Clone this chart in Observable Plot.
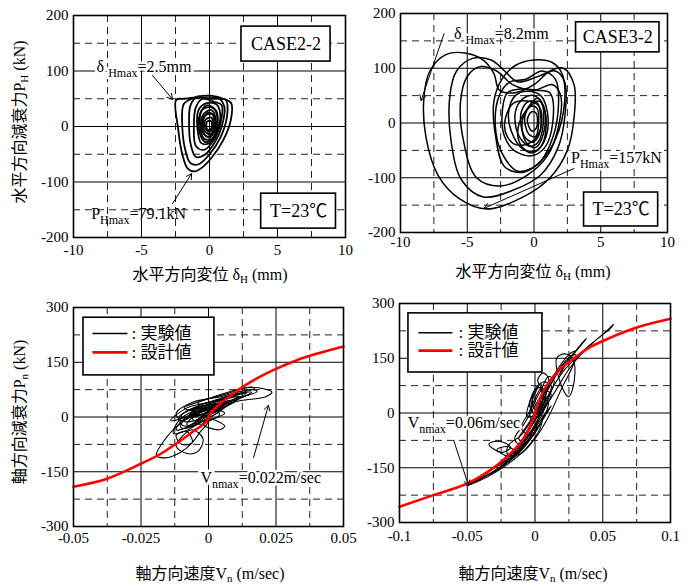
<!DOCTYPE html>
<html><head><meta charset="utf-8">
<script src="https://cdn.jsdelivr.net/npm/d3@7"></script>
<script src="https://cdn.jsdelivr.net/npm/@observablehq/plot@0.6"></script>
<style>
body{margin:0;background:#fff;}
#wrap{position:relative;width:693px;height:588px;background:#fff;font-family:'Liberation Serif','Noto Sans CJK JP';color:#000;}
#wrap svg, #wrap svg text, #wrap svg tspan{font-family:'Liberation Serif','Noto Sans CJK JP' !important;}
.pn{position:absolute;}
.lab{position:absolute;white-space:nowrap;font-size:16px;font-family:'Liberation Serif','Noto Sans CJK JP';}
.lab sub{font-size:11px;vertical-align:-3px;}
.ylab{transform:translate(-50%,-50%) rotate(-90deg);}
.xlab{transform:translate(-50%,-50%);}
</style></head>
<body><div id="wrap"></div>
<script>
// ---------- data ----------
const ticksH_x = [-10, -5, 0, 5, 10];
const ticksH_y = [-200, -100, 0, 100, 200];
const ticksN2_x = [-0.05, -0.025, 0, 0.025, 0.05];
const ticksN3_x = [-0.1, -0.05, 0, 0.05, 0.1];
const ticksN_y = [-300, -150, 0, 150, 300];

// CASE2-2 horizontal hysteresis loops (delta_H mm, P_H kN)
const loopsH22 = [
  [[-2.45,48],[-1.9,50],[-1.2,52],[-0.5,55],[0.2,55],[1.0,50],[1.6,42],[1.55,10],[1.0,-25],[0.2,-55],[-0.6,-75],[-1.1,-81],[-1.6,-76],[-2.0,-50],[-2.3,-5]],
  [[-1.9,40],[-1.3,50],[-0.6,52],[0.3,50],[1.2,48],[1.3,20],[0.8,-20],[0,-50],[-0.8,-68],[-1.4,-66],[-1.8,-40],[-2.0,0]],
  [[-1.4,38],[-0.9,54],[-0.3,50],[0.6,52],[1.1,35],[0.9,0],[0.4,-28],[-0.3,-50],[-1.0,-55],[-1.4,-30],[-1.5,5]],
  [[-1.0,35],[-0.5,50],[0.3,45],[0.9,38],[0.8,5],[0.3,-25],[-0.4,-42],[-1.0,-35],[-1.15,0]],
  [[-0.8,30],[-0.2,42],[0.5,40],[0.8,20],[0.5,-12],[0,-30],[-0.6,-30],[-0.9,0]],
  [[-0.6,28],[0,35],[0.5,28],[0.55,0],[0.2,-22],[-0.4,-22],[-0.7,5]],
  [[-0.5,20],[0.1,30],[0.45,15],[0.3,-12],[-0.2,-18],[-0.55,-2]],
  [[-0.4,18],[0.2,22],[0.35,5],[0.1,-14],[-0.35,-8]],
  [[-0.3,12],[0.15,16],[0.25,0],[0,-10],[-0.3,-2]],
  [[-0.7,22],[-0.2,38],[0.35,32],[0.6,8],[0.3,-20],[-0.3,-28],[-0.75,-8]],
  [[-0.2,8],[0.1,10],[0.15,-3],[-0.15,-6]],
  [[-0.5,10],[-0.1,25],[0.3,20],[0.35,-5],[0,-20],[-0.45,-12]]
];

// CASE3-2 horizontal hysteresis loops
const loopsH32 = [
  [[-8.25,45],[-7.8,95],[-6.6,125],[-5.2,128],[-3.8,115],[-3.0,90],[-2.6,60],[-1.5,55],[0,70],[1.2,95],[2.2,100],[3.0,70],[3.0,10],[2.5,-50],[1.2,-100],[-0.8,-135],[-3.5,-157],[-5.6,-138],[-7.2,-95],[-8.1,-25]],
  [[-6.3,50],[-5.8,95],[-4.6,118],[-3.2,115],[-2.2,95],[-1.2,75],[0.3,85],[1.6,95],[2.3,75],[2.3,10],[1.8,-45],[0.5,-95],[-1.5,-122],[-3.8,-135],[-5.4,-105],[-6.2,-35]],
  [[-5.5,40],[-5.0,85],[-4.0,103],[-2.8,95],[-1.6,70],[0,60],[1.4,70],[2.0,50],[1.8,-10],[1.0,-60],[-0.5,-95],[-2.5,-115],[-4.3,-100],[-5.3,-30]],
  [[-3.0,40],[-2.4,80],[-1.4,105],[0,115],[1.4,110],[2.1,90],[2.3,40],[1.6,-30],[0.5,-70],[-0.8,-90],[-2.2,-80],[-2.9,-20]],
  [[-2.9,-5],[-2.6,50],[-1.8,75],[-0.6,80],[0.6,95],[1.6,80],[1.8,20],[1.2,-40],[0.3,-75],[-1.2,-88],[-2.4,-55]],
  [[-2.4,10],[-2.0,55],[-1.0,62],[0.2,60],[1.2,55],[1.4,0],[0.8,-45],[-0.2,-60],[-1.5,-50],[-2.2,-25]],
  [[-1.9,20],[-1.4,50],[-0.5,58],[0.5,50],[1.0,20],[0.9,-25],[0.2,-50],[-0.8,-48],[-1.7,-15]],
  [[-1.4,20],[-0.8,45],[0,50],[0.6,35],[0.7,0],[0.3,-35],[-0.4,-42],[-1.2,-20]],
  [[-1.0,15],[-0.5,38],[0.2,38],[0.5,15],[0.4,-20],[-0.1,-35],[-0.7,-25]],
  [[-0.7,10],[-0.3,30],[0.2,28],[0.35,0],[0.1,-25],[-0.4,-20]],
  [[-0.5,5],[-0.2,20],[0.15,18],[0.2,-8],[-0.15,-15]],
  [[-2.2,0],[-1.6,35],[-0.5,40],[0.4,30],[0.5,-10],[-0.2,-35],[-1.3,-40],[-2.0,-25]],
  [[-1.2,-10],[-0.5,25],[0.4,40],[0.9,10],[0.6,-40],[-0.2,-55],[-1.0,-40]],
  [[-0.9,0],[-0.4,30],[0.3,45],[0.8,25],[0.7,-20],[0.1,-45],[-0.6,-35]]
];

// CASE2-2 axial loops (V_n m/s, P_n kN)
const loopsN22 = [
  [[-0.009,25],[-0.002,45],[0.006,65],[0.014,80],[0.02,78],[0.0235,68],[0.021,55],[0.012,45],[0.004,30],[-0.003,15]],
  [[-0.005,10],[-0.011,-20],[-0.016,-60],[-0.0193,-105],[-0.016,-112],[-0.01,-95],[-0.006,-70],[-0.003,-40],[0,-10]],
  [[-0.012,-80],[-0.008,-100],[-0.004,-95],[-0.002,-60],[-0.006,-35],[-0.01,-55]],
  [[-0.012,10],[-0.006,40],[0.004,55],[0.016,75],[0.018,70],[0.008,45],[-0.002,20],[-0.01,-10]],
  [[-0.01,-30],[-0.01,5],[-0.004,30],[0.006,50],[0.012,55],[0.008,35],[0,5],[-0.006,-25]],
  [[-0.013,-45],[-0.011,-10],[-0.006,15],[0.002,35],[0.008,40],[0.004,15],[-0.003,-15],[-0.009,-40]],
  [[-0.014,-10],[-0.008,25],[0,40],[0.01,62],[0.016,68],[0.012,52],[0.003,30],[-0.006,5]],
  [[-0.008,-20],[-0.004,10],[0.002,25],[0.006,30],[0.003,10],[-0.002,-10],[-0.006,-25]],
  [[-0.006,-5],[-0.002,15],[0.003,20],[0.004,5],[0,-8],[-0.004,-12]],
  [[0,-5],[0.006,-25],[0.004,-35],[-0.002,-20]],
  [[-0.012,-50],[-0.008,-40],[-0.006,-70],[-0.01,-75]],
  [[-0.004,40],[0.005,60],[0.016,82],[0.017,78],[0.006,55],[-0.003,35]],
  [[-0.011,0],[-0.005,25],[0.004,38],[0.01,45],[0.005,25],[-0.004,5]],
  [[-0.01,-20],[-0.006,10],[0,25],[0.006,38],[0.004,20],[-0.002,0],[-0.008,-25]],
  [[-0.008,0],[-0.003,20],[0.003,35],[0.008,45],[0.005,28],[-0.001,10]],
  [[-0.012,-35],[-0.009,-5],[-0.004,15],[0,20],[-0.002,0],[-0.007,-25]],
  [[-0.006,20],[0,35],[0.008,55],[0.014,65],[0.01,50],[0.002,30]],
  [[-0.009,-12],[-0.005,12],[0.001,28],[0.004,24],[0,6],[-0.005,-10]],
  [[-0.007,5],[-0.002,30],[0.005,45],[0.011,58],[0.008,42],[0.001,20],[-0.005,0]],
  [[-0.005,-15],[-0.001,8],[0.004,18],[0.006,10],[0.002,-5],[-0.003,-20]]
];

// CASE3-2 axial loops
const loopsN32 = [
  [[-0.0505,-198],[-0.04,-175],[-0.03,-150],[-0.02,-120],[-0.01,-80],[0,-20],[0.01,50],[0.02,110],[0.03,150],[0.04,185],[0.05,215],[0.058,243],[0.055,230],[0.045,200],[0.035,165],[0.025,120],[0.015,60],[0.005,0],[-0.005,-60],[-0.015,-105],[-0.03,-150],[-0.045,-190]],
  [[-0.02,-90],[-0.01,-60],[0.002,10],[0.012,80],[0.022,140],[0.03,160],[0.028,130],[0.02,70],[0.01,-10],[0,-70],[-0.01,-110],[-0.02,-115]],
  [[0.016,150],[0.022,162],[0.028,148],[0.029,90],[0.025,45],[0.02,70]],
  [[-0.034,-85],[-0.03,-78],[-0.022,-82],[-0.018,-95],[-0.024,-108],[-0.03,-100]],
  [[-0.028,-100],[-0.02,-92],[-0.014,-110],[-0.02,-118]],
  [[-0.01,-40],[-0.003,10],[0.004,60],[0.01,100],[0.014,90],[0.01,40],[0.003,-20],[-0.005,-60]],
  [[-0.004,20],[0,60],[0.006,85],[0.012,75],[0.008,30],[0.002,-10]],
  [[-0.002,40],[0.002,70],[0.008,60],[0.005,20],[0,10]],
  [[-0.015,-70],[-0.008,-30],[0,20],[0.008,60],[0.012,50],[0.004,0],[-0.006,-50],[-0.012,-85]],
  [[0.02,120],[0.03,170],[0.038,205],[0.036,195],[0.026,150],[0.018,105]],
  [[-0.05,-199],[-0.04,-180],[-0.03,-162],[-0.02,-135],[-0.01,-100],[-0.003,-60],[0.002,-20],[0,-50],[-0.008,-90],[-0.018,-125],[-0.03,-158],[-0.042,-185]],
  [[-0.048,-196],[-0.036,-172],[-0.024,-145],[-0.012,-110],[-0.004,-75],[0.004,-30],[0.006,-5],[0.004,-40],[-0.006,-95],[-0.02,-140],[-0.035,-175]],
  [[-0.03,-150],[-0.02,-128],[-0.01,-95],[0,-50],[0.008,0],[0.01,30],[0.006,10],[-0.004,-60],[-0.016,-115]],
  [[-0.022,-120],[-0.012,-92],[-0.002,-50],[0.006,-10],[0.012,20],[0.008,-5],[-0.002,-60],[-0.014,-105]],
  [[0.005,40],[0.015,110],[0.025,160],[0.03,170],[0.02,130],[0.01,70]],
  [[0.002,90],[0.006,110],[0.01,95],[0.008,60]],
  [[-0.004,0],[0,40],[0.004,65],[0.006,45],[0.002,5],[-0.002,-20]],
  [[-0.006,-10],[-0.004,30],[0,65],[0.004,80],[0.006,50],[0.002,0]],
  [[-0.012,-70],[-0.006,-35],[0.002,10],[0.008,45],[0.006,20],[-0.002,-30],[-0.01,-75]],
  [[-0.003,10],[-0.001,45],[0.003,70],[0.005,55],[0.003,20],[0,0]]
];

// design curves
const designN22 = [[-0.05,-191],[-0.0376,-169],[-0.025,-128],[-0.0175,-100],[-0.011,-68],[-0.005,-36],[-0.001,-14],[0.0012,14],[0.0075,55],[0.0125,82],[0.02,114],[0.025,132],[0.0325,155],[0.04,173],[0.05,193]];
const designN32 = [[-0.1,-257],[-0.075,-225],[-0.0505,-194],[-0.0333,-157],[-0.021,-121],[-0.0086,-71],[-0.0012,-16],[0.0025,29],[0.0086,75],[0.0185,120],[0.031,156],[0.04,179],[0.053,202],[0.075,234],[0.1,258]];

// annotation texts
const legendLabels = [": 実験値", ": 設計値"];
const boxesH22 = [{x1:2.35,x2:8.9,y1:117,y2:180,label:"CASE2-2"},{x1:3.8,x2:9.3,y1:-184,y2:-121,label:"T=23℃"}];
const boxesH32 = [{x1:3.15,x2:9.4,y1:129,y2:184,label:"CASE3-2"},{x1:3.75,x2:9.3,y1:-189,y2:-127,label:"T=23℃"}];
const notesH22 = [{x:-8.3,y:108,t:"δ _{Hmax}=2.5mm",halo:true},{x:-8.7,y:-157,t:"P_{Hmax}=79.1kN",halo:false}];
const arrowsH22 = [{x1:-4.19,y1:92,x2:-2.72,y2:49},{x1:-2.72,y1:-139,x2:-1.32,y2:-85}];
const notesH32 = [{x:-6.0,y:163,t:"δ _{Hmax}=8.2mm",halo:true},{x:2.77,y:-63,t:"P_{Hmax}=157kN",halo:true}];
const arrowsH32 = [{x1:-6.74,y1:163,x2:-8.46,y2:41},{x1:3.0,y1:-83,x2:-3.75,y2:-156}];
const notesN22 = [{x:-0.003,y:-166,t:"V_{nmax}=0.022m/sec",halo:true}];
const arrowsN22 = [{x1:0.0167,y1:-111,x2:0.0222,y2:32}];
const notesN32 = [{x:-0.094,y:-26,t:"V_{nmax}=0.06m/sec",halo:true}];
const arrowsN32 = [{x1:-0.060,y1:-75,x2:-0.049,y2:-199}];
const legendN22 = {box:{x1:-0.0463,x2:0.0022,y1:114,y2:272}, lx1:-0.043, lx2:-0.030, tx:-0.0285, yBlack:229, yRed:177};
const legendN32 = {box:{x1:-0.0934,x2:0.0055,y1:111,y2:273}, lx1:-0.086, lx2:-0.061, tx:-0.0565, yBlack:220, yRed:171};

// ---------- helpers ----------
const FONT = "'Liberation Serif','Noto Sans CJK JP'";
const rows = loops => loops.flatMap((pts, i) => pts.map(([x, y]) => ({x, y, id: i})));
const pts = a => a.map(([x, y]) => ({x, y}));

function subify(svg) {
  d3.select(svg).selectAll("text").each(function () {
    const t = this.textContent;
    const m = t.match(/^(.*?)_\{(.*?)\}(.*)$/);
    if (!m) return;
    const el = d3.select(this);
    el.text(null);
    el.append("tspan").text(m[1]);
    el.append("tspan").attr("dy", 5).attr("font-size", 12).text(m[2]);
    el.append("tspan").attr("dy", -5).text(m[3]);
  });
}

function panel(o) {
  const marks = [
    Plot.ruleX(o.xDashed, {stroke: "#222", strokeWidth: 1, strokeDasharray: "7,5"}),
    Plot.ruleY(o.yDashed, {stroke: "#222", strokeWidth: 1, strokeDasharray: "7,5"}),
    Plot.ruleX(o.xSolid, {stroke: "#000", strokeWidth: 1}),
    Plot.ruleY(o.ySolid, {stroke: "#000", strokeWidth: 1}),
    Plot.line(rows(o.loops), {x: "x", y: "y", z: "id", stroke: "#000", strokeWidth: o.lw, curve: "catmull-rom-closed"})
  ];
  if (o.design) marks.push(Plot.line(pts(o.design), {x: "x", y: "y", stroke: "#f00", strokeWidth: 2.6, curve: "catmull-rom"}));
  if (o.boxes) {
    marks.push(Plot.rect(o.boxes, {x1: "x1", x2: "x2", y1: "y1", y2: "y2", fill: "white", stroke: "#000", strokeWidth: 1.6}));
    marks.push(Plot.text(o.boxes, {x: d => (d.x1 + d.x2) / 2, y: d => (d.y1 + d.y2) / 2, text: "label", fontSize: 18, fontFamily: FONT}));
  }
  if (o.legend) {
    const L = o.legend;
    marks.push(Plot.rect([L.box], {x1: "x1", x2: "x2", y1: "y1", y2: "y2", fill: "white", stroke: "#000", strokeWidth: 1.6}));
    marks.push(Plot.link([{y: L.yBlack, c: "#000", w: 1.5}, {y: L.yRed, c: "#f00", w: 2.6}], {x1: () => L.lx1, x2: () => L.lx2, y1: "y", y2: "y", stroke: d => d.c, strokeWidth: d => d.w}));
    marks.push(Plot.text([{y: L.yBlack, t: legendLabels[0]}, {y: L.yRed, t: legendLabels[1]}], {x: () => L.tx, y: "y", text: "t", textAnchor: "start", fontSize: 17, fontFamily: FONT}));
  }
  marks.push(Plot.arrow(o.arrows, {x1: "x1", y1: "y1", x2: "x2", y2: "y2", stroke: "#000", strokeWidth: 1, headLength: 9, bend: 0}));
  marks.push(Plot.text(o.notes.filter(d => d.halo), {x: "x", y: "y", text: "t", textAnchor: "start", fontSize: 16, fontFamily: FONT, stroke: "white", strokeWidth: 5, fill: "#000"}));
  marks.push(Plot.text(o.notes.filter(d => !d.halo), {x: "x", y: "y", text: "t", textAnchor: "start", fontSize: 16, fontFamily: FONT, fill: "#000"}));
  marks.push(Plot.frame({stroke: "#000", strokeWidth: 1.6}));
  marks.push(Plot.axisX({ticks: o.xTicks, tickSize: 0, tickPadding: o.xPad, tickFormat: d => String(d), label: null, fontSize: 15, fontFamily: FONT}));
  marks.push(Plot.axisY({ticks: o.yTicks, tickSize: 0, tickPadding: 5, tickFormat: d => String(d), label: null, fontSize: 15, fontFamily: FONT}));
  const svg = Plot.plot({
    width: o.width, height: o.height,
    marginLeft: o.m[0], marginRight: o.m[1], marginTop: o.m[2], marginBottom: o.m[3],
    x: {domain: o.xDomain}, y: {domain: o.yDomain},
    style: {fontFamily: FONT, fontSize: "15px", background: "transparent", overflow: "visible", color: "#000"},
    marks
  });
  svg.setAttribute("font-family", FONT);
  subify(svg);
  const div = document.createElement("div");
  div.className = "pn";
  div.style.left = o.left + "px"; div.style.top = o.top + "px";
  div.appendChild(svg);
  document.getElementById("wrap").appendChild(div);
}

const hGrid = {xSolid: [-5, 0, 5], xDashed: [-7.5, -2.5, 2.5, 7.5], ySolid: [-100, 0, 100], yDashed: [-150, -50, 50, 150]};
panel({...hGrid, left: 0, top: 0, width: 360, height: 265, m: [73, 15, 15, 28], xDomain: [-10, 10], yDomain: [-200, 200],
  xTicks: ticksH_x, yTicks: ticksH_y, xPad: 7, loops: loopsH22, lw: 1.8, boxes: boxesH22, notes: notesH22, arrows: arrowsH22});
panel({...hGrid, left: 340, top: 0, width: 345, height: 260, m: [60, 18, 13, 28], xDomain: [-10, 10], yDomain: [-200, 200],
  xTicks: ticksH_x, yTicks: ticksH_y, xPad: 4, loops: loopsH32, lw: 1.5, boxes: boxesH32, notes: notesH32, arrows: arrowsH32});
panel({left: 0, top: 290, width: 360, height: 265, m: [73, 17, 17, 29], xDomain: [-0.05, 0.05], yDomain: [-300, 300],
  xSolid: [-0.025, 0, 0.025], xDashed: [-0.0375, -0.0125, 0.0125, 0.0375], ySolid: [-150, 0, 150], yDashed: [-225, -75, 75, 225],
  xTicks: ticksN2_x, yTicks: ticksN_y, xPad: 6, loops: loopsN22, lw: 1.1, design: designN22, legend: legendN22, notes: notesN22, arrows: arrowsN22});
panel({left: 340, top: 290, width: 345, height: 265, m: [59, 15, 13, 33], xDomain: [-0.1, 0.1], yDomain: [-300, 300],
  xSolid: [-0.05, 0, 0.05], xDashed: [-0.075, -0.025, 0.025, 0.075], ySolid: [-150, 0, 150], yDashed: [-225, -75, 75, 225],
  xTicks: ticksN3_x, yTicks: ticksN_y, xPad: 8, loops: loopsN32, lw: 1.1, design: designN32, legend: legendN32, notes: notesN32, arrows: arrowsN32});

// axis titles
const wrap = document.getElementById("wrap");
function lab(html, x, y, cls) {
  const d = document.createElement("div");
  d.className = "lab " + cls; d.innerHTML = html;
  d.style.left = x + "px"; d.style.top = y + "px";
  wrap.appendChild(d);
}
lab("水平方向減衰力P<sub>H</sub> (kN)", 18, 122, "ylab");
lab("軸方向減衰力P<sub>n</sub> (kN)", 18, 412, "ylab");
lab("水平方向変位 δ<sub>H</sub> (mm)", 210, 273, "xlab");
lab("水平方向変位 δ<sub>H</sub> (mm)", 533, 270, "xlab");
lab("軸方向速度V<sub>n</sub> (m/sec)", 210, 572, "xlab");
lab("軸方向速度V<sub>n</sub> (m/sec)", 533, 572, "xlab");
</script></body></html>
